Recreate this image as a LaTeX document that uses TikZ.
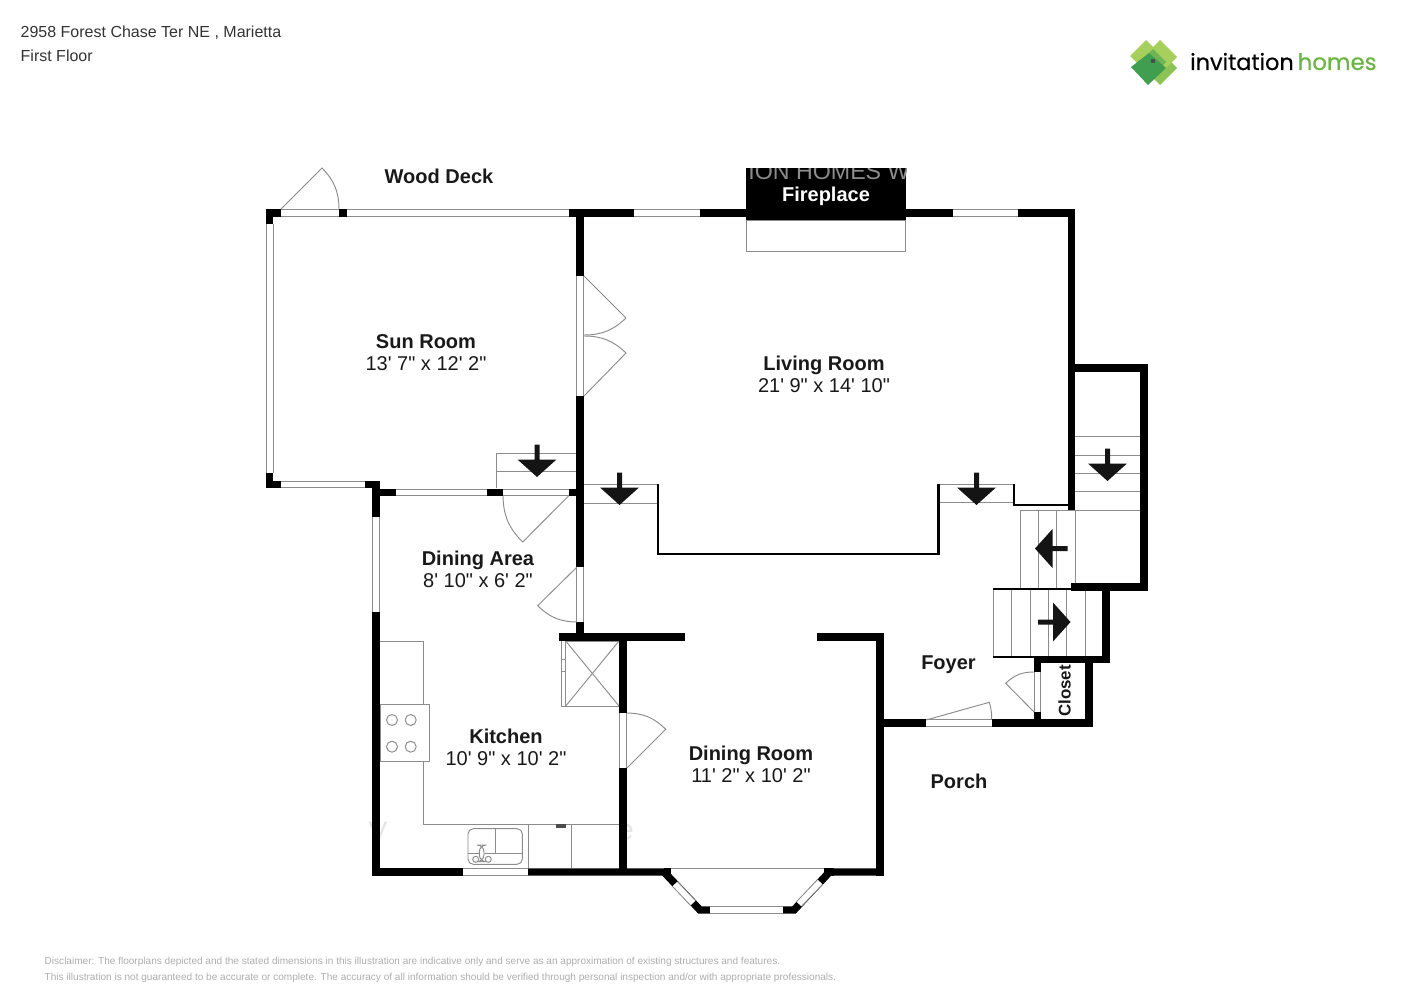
\documentclass[tikz,border=0pt]{standalone}
\usepackage{fontspec}
\setmainfont[Ligatures=TeXOff]{Liberation Sans}
\newfontfamily\logofont[FakeBold=0.5]{Poppins}
\definecolor{logolight}{HTML}{A6CF5E}
\definecolor{logomid}{HTML}{8DC255}
\definecolor{logocore}{HTML}{6FB455}
\definecolor{logodark}{HTML}{3F9E50}
\definecolor{logotext}{HTML}{6CB544}
\tikzset{
	wall/.style={line width=2.13pt},
	thinwall/.style={line width=.62pt},
	pane/.style={draw=black!45, double=white, line width=.28pt, double distance=1.62pt},
	thin line/.style={draw=black!45, line width=.27pt},
	roomlabel/.style={align=center, font=\fontsize{5.69}{6.26}\selectfont, text=black!90, inner sep=0pt},
	boldlabel/.style={font=\fontsize{5.69}{6.26}\selectfont\bfseries, text=black!90, inner sep=0pt},
	stairarrow/.pic={
		\fill[black!92] (-2.5,-32.5) -- (2.5,-32.5) -- (2.5,-17.5) -- (19.5,-17.5) -- (0,0) -- (-19.5,-17.5) -- (-2.5,-17.5) -- cycle;
	}
}
\begin{document}
\begin{tikzpicture}[x=0.01cm,y=-0.01cm]

	\useasboundingbox (0,0) rectangle (1414,1000);

	% header and footer
	\node (address) [anchor=base west, inner sep=0pt, text=black!80, font=\fontsize{4.55}{5}\selectfont] at (20,37.5) {2958 Forest Chase Ter NE , Marietta};
	\node (floor) [anchor=base west, inner sep=0pt, text=black!80, font=\fontsize{4.55}{5}\selectfont] at (20,61) {First Floor};
	\node (disclaimer1) [anchor=base west, inner sep=0pt, text=black!32, font=\fontsize{2.86}{3}\selectfont] at (44,964) {Disclaimer: The floorplans depicted and the stated dimensions in this illustration are indicative only and serve as an approximation of existing structures and features.};
	\node (disclaimer2) [anchor=base west, inner sep=0pt, text=black!32, font=\fontsize{2.86}{3}\selectfont] at (44,980) {This illustration is not guaranteed to be accurate or complete. The accuracy of all information should be verified through personal inspection and/or with appropriate professionals.};

	% logo
	\foreach \cx/\cy/\hd/\col in {1160/68/17/logomid, 1146/56/16/logolight, 1160/57/17/logolight, 1153/62/13/logocore} {
		\fill[\col] (\cx-\hd,\cy) -- (\cx,\cy-\hd) -- (\cx+\hd,\cy) -- (\cx,\cy+\hd) -- cycle;
	}
	\fill[logodark] (1131,67) -- (1149,53) -- (1166,68) -- (1148,85) -- cycle;
	\fill[black!70] (1151,59) rectangle (1155,63);
	\node (logoinvitation) [anchor=base west, inner sep=0pt, font=\logofont\fontsize{6.37}{8}\selectfont] at (1189.5,70) {invitation};
	\node (logohomes) [anchor=base west, inner sep=0pt, text=logotext, font=\logofont\fontsize{6.5}{8}\selectfont] at (1297,70) {homes};

	% fireplace
	\fill (746,168) rectangle (906,220);
	\begin{scope}
		\clip (746,168) rectangle (906,220);
		\node (watermark) [text=black!45, font=\fontsize{6.6}{7}\selectfont, inner sep=0pt] at (829,172) {ION HOMES W};
	\end{scope}
	\draw[thin line] (746,220) rectangle (905,251);

	% watermark remains in the kitchen
	\node (markv) [text=black!10, font=\fontsize{8}{9}\selectfont, inner sep=0pt] at (378,832) {V};
	\node (marke) [text=black!10, font=\fontsize{8}{9}\selectfont, inner sep=0pt] at (626,832) {e};

	% stairs
	\draw[thin line] (496,488) -- (496,453) -- (577,453) (496,471) -- (577,471);
	\draw[thin line] (584,484) -- (658,484) (584,503) -- (658,503);
	\draw[thin line] (939,484) -- (1014,484) (939,502.5) -- (1014,502.5);
	\foreach \y in {436.7,455,473.3,491.7,510} {
		\draw[thin line] (1075,\y) -- (1141,\y);
	}
	\draw[thin line] (1020,510) -- (1075,510);
	\foreach \x in {1020,1038.3,1056.7,1075} {
		\draw[thin line] (\x,510) -- (\x,588);
	}
	\foreach \x in {993.3,1011.7,1030,1048.3,1066.7,1085} {
		\draw[thin line] (\x,589) -- (\x,657);
	}
	\pic at (537,477) {stairarrow};
	\pic at (619.5,505) {stairarrow};
	\pic at (976.5,505) {stairarrow};
	\pic at (1107.5,481) {stairarrow};
	\pic[rotate=-90] at (1035,548.5) {stairarrow};
	\pic[rotate=90] at (1070.5,622) {stairarrow};

	% kitchen
	\draw[thin line] (380,641) -- (423,641) -- (423,824) -- (620,824);
	\draw[thin line] (528.5,824) -- (528.5,868) (571.7,824) -- (571.7,868);
	\fill[black!70] (556,824.3) rectangle (566,828);
	\draw[thin line, fill=white] (380,704) rectangle (429.3,761.7);
	\foreach \x/\y in {392/720, 410.7/720, 392/746.7, 410.7/746.7} {
		\draw[thin line] (\x,\y) circle (5.5);
	}
	\draw[thin line, rounded corners=1.5] (468,828.7) rectangle (522.3,864.3);
	\draw[thin line] (495,829) -- (495,853) (468,853) -- (522.3,853);
	\draw[thin line, fill=white, rounded corners=2] (479.3,845) rectangle (484,861.7);
	\draw[thin line] (475.7,859.3) circle (3) (488.3,859.3) circle (3);
	\draw[thin line] (565.7,641) rectangle (619,706);
	\draw[thin line] (565.7,641) -- (619,706) (619,641) -- (565.7,706);
	\draw[thin line] (561.3,641) -- (561.3,706) -- (565.7,706);
	\draw[thin line] (561.3,659) rectangle (565.7,671.7);
	\draw[thin line] (671,868.5) -- (824,868.5);

	% walls
	\draw[wall] (266,213) -- (281,213) (269.7,209.5) -- (269.7,224) (339,213) -- (347,213);
	\draw[wall] (269.7,473) -- (269.7,484.5) -- (281,484.5);
	\draw[wall] (569,213) -- (634,213) (700,213) -- (746,213) (906,213) -- (953,213);
	\draw[wall] (1018,213) -- (1071.3,213) -- (1071.3,510);
	\draw[wall] (580,213) -- (580,276) (580,396) -- (580,567) (580,622) -- (580,637);
	\draw[wall] (365,484.5) -- (376,484.5) -- (376,517);
	\draw[wall] (376,612) -- (376,872) -- (463,872);
	\draw[wall] (376,492.5) -- (396,492.5) (487,492.5) -- (503,492.5) (569,492.5) -- (580,492.5);
	\draw[wall] (559,637) -- (685,637) (817,637) -- (880,637) -- (880,876);
	\draw[wall] (623,637) -- (623,713) (623,768) -- (623,872);
	\draw[wall] (528,872) -- (664,872) -- (700,910) -- (794,910) -- (829.5,872) -- (880,872);
	\draw[wall] (664,872) -- (671,872) (824,872) -- (834,872);
	\draw[wall] (880,723) -- (926,723) (992,723) -- (1089,723) -- (1089,659.5);
	\draw[wall] (1034,659.5) -- (1106,659.5) -- (1106,587);
	\draw[wall] (1037.5,656) -- (1037.5,672) (1037.5,712) -- (1037.5,723);
	\draw[wall] (1071.3,368) -- (1144,368) -- (1144,587) -- (1071.3,587);
	\draw[thinwall] (658,484) -- (658,554) -- (938.5,554) -- (938.5,484);
	\draw[thinwall] (1014,484) -- (1014,505) -- (1068,505);
	\draw[thinwall] (993,589) -- (1071,589) (993,657) -- (1034,657);

	% windows and door openings
	\path[pane] (281,213) -- (339,213);
	\path[pane] (347,213) -- (569,213);
	\path[pane] (634,213) -- (700,213);
	\path[pane] (953,213) -- (1018,213);
	\path[pane] (269.7,224) -- (269.7,473);
	\path[pane] (281,484.5) -- (365,484.5);
	\path[pane] (396,492.5) -- (487,492.5);
	\path[pane] (503,492.5) -- (569,492.5);
	\path[pane] (376,517) -- (376,612);
	\path[pane] (580,276) -- (580,396);
	\path[pane] (580,567) -- (580,622);
	\path[pane] (623,713) -- (623,768);
	\path[pane] (463,872) -- (528,872);
	\path[pane] (675,884) -- (693,903);
	\path[pane] (710,910) -- (782.7,910);
	\path[pane] (820,882) -- (799,904);
	\path[pane] (926,723) -- (992,723);
	\path[pane] (1037.5,672) -- (1037.5,712);

	% door leaves
	\draw[thin line] (281,209) -- (322,168) to[bend left=22] (339,209);
	\draw[thin line] (584,276) -- (626,318) to[bend left=22] (584,335);
	\draw[thin line] (584,336) to[bend left=22] (626,353) -- (584,396);
	\draw[thin line] (503,496) to[bend right=22] (522.7,542) -- (568.5,496);
	\draw[thin line] (577,567) -- (537.7,605.7) to[bend right=22] (577,622);
	\draw[thin line] (627,713) to[bend left=22] (665.7,729.3) -- (627,768);
	\draw[thin line] (926,720) -- (989.3,702.3) to[bend left=8] (991.7,719);
	\draw[thin line] (1034,672) to[bend right=22] (1005.7,683.3) -- (1034,712);

	% labels
	\node (deck) [boldlabel] at (439,176) {Wood Deck};
	\node (fireplace) [boldlabel, text=white] at (826,196) {Fireplace};
	\node (sunroom) [roomlabel] at (426,352.5) {\textbf{Sun Room}\\13' 7" x 12' 2"};
	\node (livingroom) [roomlabel] at (824,374.5) {\textbf{Living Room}\\21' 9" x 14' 10"};
	\node (diningarea) [roomlabel] at (478,569.5) {\textbf{Dining Area}\\8' 10" x 6' 2"};
	\node (kitchen) [roomlabel] at (506,747.5) {\textbf{Kitchen}\\10' 9" x 10' 2"};
	\node (diningroom) [roomlabel] at (751,764.5) {\textbf{Dining Room}\\11' 2" x 10' 2"};
	\node (foyer) [boldlabel] at (948.5,664.5) {Foyer};
	\node (porch) [boldlabel] at (959,781) {Porch};
	\node (closet) [boldlabel, rotate=90, font=\fontsize{4.8}{5}\selectfont\bfseries] at (1064.5,691) {Closet};

\end{tikzpicture}
\end{document}
